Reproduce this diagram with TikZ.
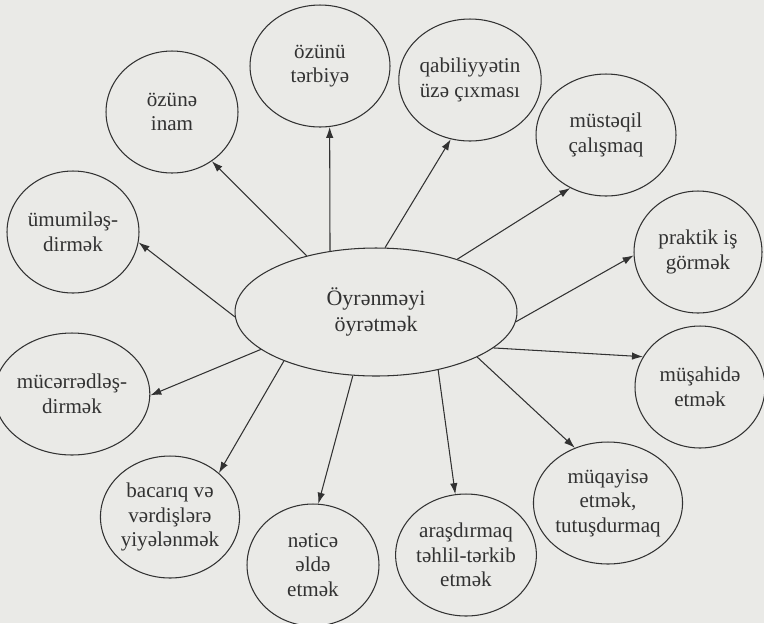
\documentclass[tikz,border=0pt]{standalone}
\usepackage{fontspec}
\setmainfont{Liberation Serif}
\usepackage{tikz}
\usetikzlibrary{arrows.meta,shapes.geometric}

\definecolor{paper}{RGB}{234,234,231}
\definecolor{ink}{RGB}{50,50,50}

\begin{document}
\begin{tikzpicture}[x=0.02cm, y=-0.02cm,
    bubble/.style={draw=ink, line width=0.6pt, ellipse, minimum width=2.64cm, minimum height=2.44cm,
        inner sep=0pt, align=center, text=ink, font=\fontsize{12}{14}\selectfont},
    link/.style={draw=ink, line width=0.6pt, -{Latex[length=2.2mm,width=1.5mm]}}]
    \useasboundingbox (0,0) rectangle (764,623);
    \fill[paper] (0,0) rectangle (764,623);

    \node[bubble, minimum width=5.64cm, minimum height=2.56cm, font=\fontsize{12.5}{14.5}\selectfont]
        (main) at (376,312) {Öyrənməyi\\öyrətmək};

    \node[bubble] (inam) at (172,112) {özünə\\inam};
    \node[bubble, minimum width=2.8cm] (terbiye) at (320,66) {özünü\\tərbiyə};
    \node[bubble, minimum width=2.68cm] (qabiliyyet) at (470,80) {qabiliyyətin\\üzə çıxması};
    \node[bubble, minimum width=2.8cm] (musteqil) at (606,135) {müstəqil\\çalışmaq};
    \node[bubble, minimum width=2.56cm] (praktik) at (698,252) {praktik iş\\görmək};
    \node[bubble] (umumi) at (73,232) {ümumiləş-\\dirmək};
    \node[bubble] (mucerred) at (72,394) {mücərrədləş-\\dirmək};
    \node[bubble, minimum width=2.6cm] (musahide) at (700,387) {müşahidə\\etmək};
    \node[bubble] (bacariq) at (170,517) {bacarıq və\\vərdişlərə\\yiyələnmək};
    \node[bubble] (netice) at (313,565) {nəticə\\əldə\\etmək};
    \node[bubble, minimum width=2.7cm] (arasdirma) at (466,555) {araşdırmaq\\təhlil-tərkib\\etmək};
    \node[bubble] (muqayise) at (608,503) {müqayisə\\etmək,\\tutuşdurmaq};

    % arrows out of the centre
    \draw[link] (main.141) -- (inam.-51);
    \draw[link] (main.127) -- (terbiye.-81);
    \draw[link] (main.82) -- (qabiliyyet.-108);
    \draw[link] (main.33) -- (musteqil.-124);
    \draw[link] (main.-4) -- (praktik.183);
    \draw[link] (main.182) -- (umumi.-9);
    \draw[link] (main.198) -- (mucerred.-1);
    \draw[link] (main.-17) -- (musahide.152);
    \draw[link] (main.208) -- (bacariq.42);
    \draw[link] (main.250) -- (netice.85);
    \draw[link] (main.-43) -- (arasdirma.100);
    \draw[link] (main.-24) -- (muqayise.121);
\end{tikzpicture}
\end{document}
